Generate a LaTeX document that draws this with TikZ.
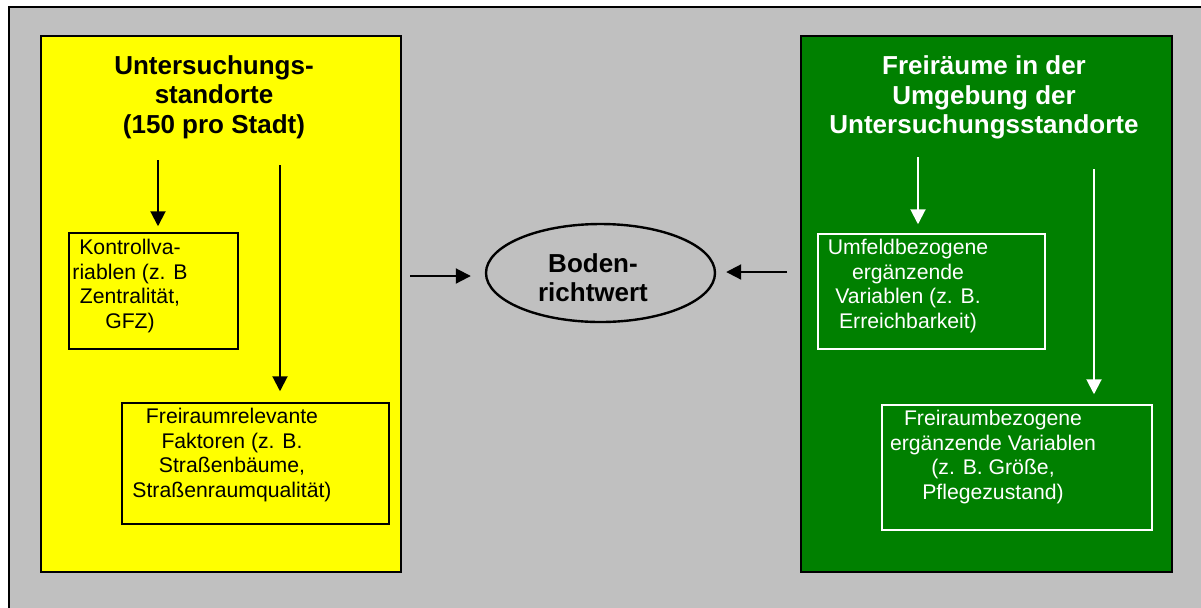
\documentclass[tikz,border=0pt]{standalone}
\usepackage{fontspec}
\setmainfont{Liberation Sans}
\usetikzlibrary{arrows.meta,shapes.geometric}

\definecolor{panelgrey}{HTML}{C0C0C0}
\definecolor{siteyellow}{HTML}{FFFF00}
\definecolor{sitegreen}{HTML}{008000}

\begin{document}
\begin{tikzpicture}[
  x=0.5pt,y=-0.5pt,
  panel/.style={draw,line width=0.6pt,inner sep=0pt},
  varbox/.style={draw,line width=0.75pt,inner sep=0pt},
  head/.style={font=\fontsize{13}{14.75}\selectfont\bfseries,align=center,anchor=base,inner sep=0pt},
  body/.style={font=\fontsize{10.6}{12.2}\selectfont,align=center,anchor=base,inner sep=0pt},
  arr/.style={-{Triangle[length=7.5pt,width=7.5pt]},line width=1pt},
  warr/.style={arr,white}
]
\useasboundingbox (0,0) rectangle (1201,607);
\clip (0,0) rectangle (1201,607);
\draw[fill=panelgrey,line width=1pt] (9,7) rectangle (1215,625);

% left panel
\node[panel,fill=siteyellow,minimum width=180pt,minimum height=268pt] (standorte) at (221,304) {};
\node[head] (standorttitle) at (214,133) {Untersuchungs-\\standorte\\(150 pro Stadt)};
\node[varbox,minimum width=84.5pt,minimum height=58pt] (kontroll) at (153.5,291) {};
\node[body] (kontrolltext) at (130,328) {Kontrollva-\\riablen (z. B\\Zentralität,\\GFZ)};
\node[varbox,minimum width=133.5pt,minimum height=60.5pt] (faktoren) at (255.5,463.5) {};
\node[body] (faktorentext) at (232,497) {Freiraumrelevante\\Faktoren (z. B.\\Straßenbäume,\\Straßenraumqualität)};
\coordinate (ka) at (158,160);
\coordinate (fa) at (280,165);
\draw[arr,shorten >=3pt] (ka) -- (kontroll.north -| ka);
\draw[arr,shorten >=5.5pt] (fa) -- (faktoren.north -| fa);

% right panel
\node[panel,fill=sitegreen,minimum width=185.5pt,minimum height=268pt] (freiraeume) at (986.5,304) {};
\node[head,white] (freititle) at (984,133.5) {Freiräume in der\\Umgebung der\\Untersuchungsstandorte};
\node[varbox,white,minimum width=113.5pt,minimum height=57.5pt] (umfeld) at (931.5,291.5) {};
\node[body,white] (umfeldtext) at (908,328) {Umfeldbezogene\\ergänzende\\Variablen (z. B.\\Erreichbarkeit)};
\node[varbox,white,minimum width=135pt,minimum height=62.5pt] (freibez) at (1017,467.5) {};
\node[body,white] (freibeztext) at (993,499) {Freiraumbezogene\\ergänzende Variablen\\(z. B. Größe,\\Pflegezustand)};
\coordinate (ua) at (918,157);
\coordinate (ba) at (1094,169);
\draw[warr,shorten >=4.5pt] (ua) -- (umfeld.north -| ua);
\draw[warr,shorten >=5pt] (ba) -- (freibez.north -| ba);

% middle
\node[draw,ellipse,line width=1.2pt,minimum width=114.5pt,minimum height=49pt,inner sep=0pt] (boden) at (600.5,273) {};
\node[font=\fontsize{13}{14.5}\selectfont\bfseries,align=center,anchor=base,inner sep=0pt] (bodentext) at (593,301) {Boden-\\richtwert};
\coordinate (la) at (410,276);
\coordinate (ra) at (787,272);
\draw[arr,shorten >=7pt] (la) -- (boden.west |- la);
\draw[arr,shorten >=5pt] (ra) -- (boden.east |- ra);
\end{tikzpicture}
\end{document}
